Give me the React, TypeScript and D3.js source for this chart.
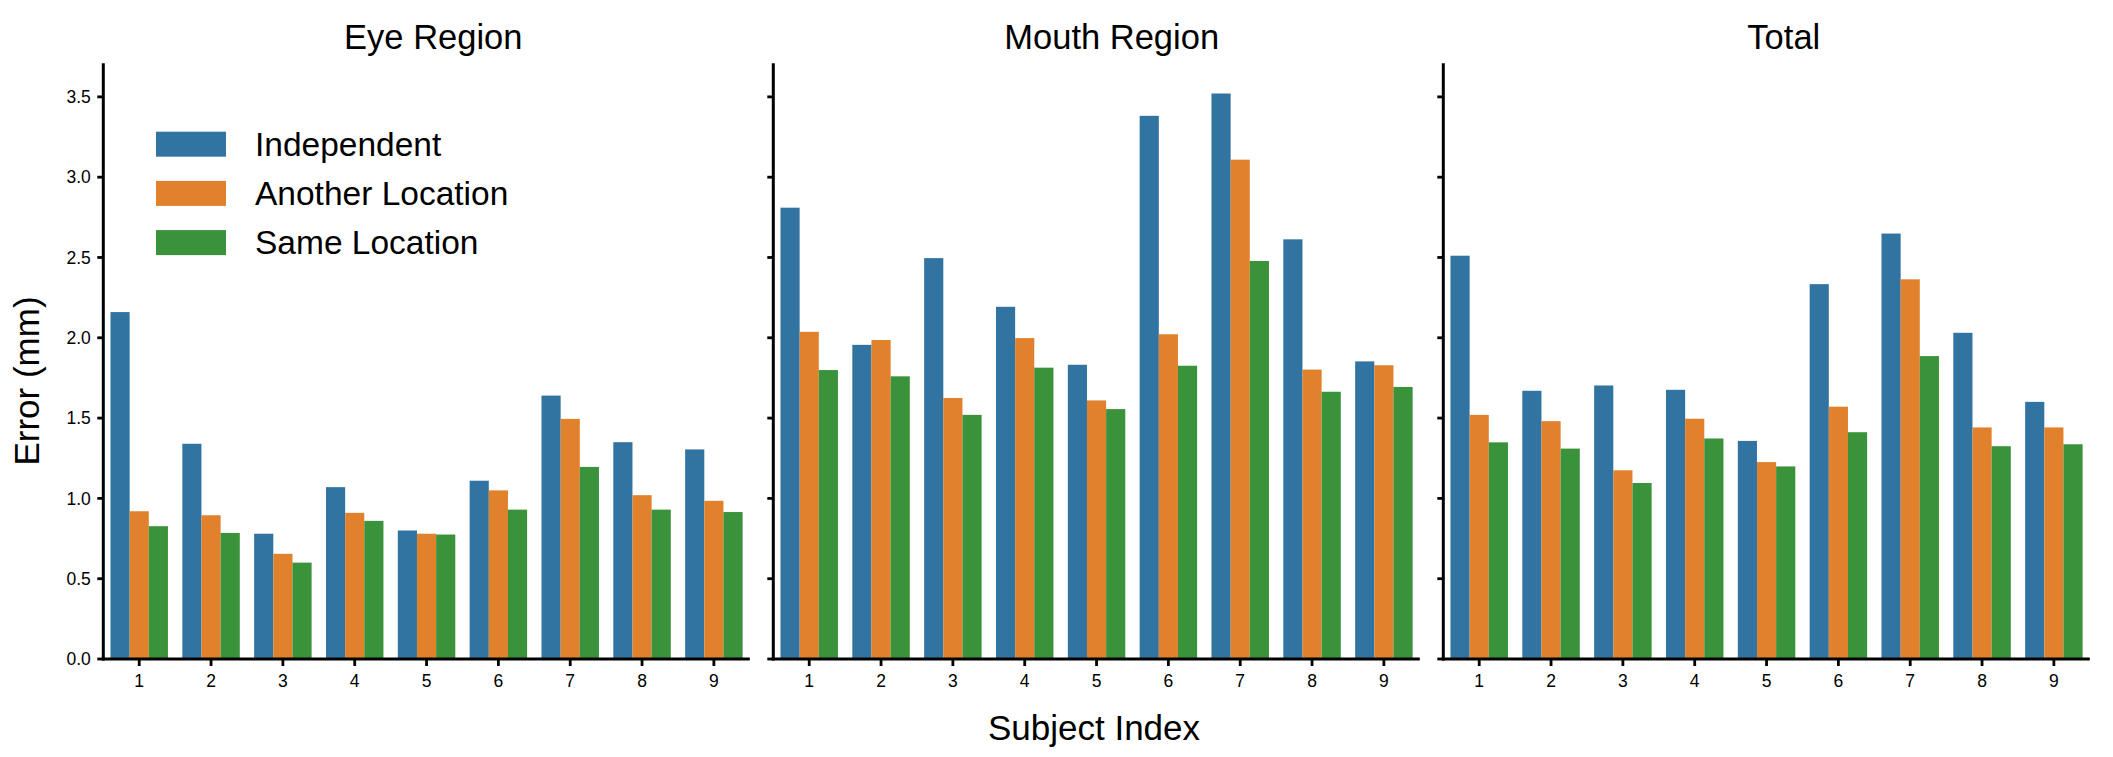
import React, { useEffect } from "react";
import * as d3 from "d3";

// ---------- data ----------
const subjects = ["1", "2", "3", "4", "5", "6", "7", "8", "9"];
const seriesNames = ["Independent", "Another Location", "Same Location"];
const seriesColors = ["#3274a1", "#e1812c", "#3a923a"];
const panelTitles = ["Eye Region", "Mouth Region", "Total"];
const yTickValues = [0, 0.5, 1.0, 1.5, 2.0, 2.5, 3.0, 3.5];

const eyeIndependent = [2.16, 1.34, 0.78, 1.07, 0.8, 1.11, 1.64, 1.35, 1.305];
const eyeAnother = [0.92, 0.895, 0.655, 0.91, 0.78, 1.05, 1.495, 1.02, 0.985];
const eyeSame = [0.827, 0.785, 0.6, 0.86, 0.775, 0.93, 1.196, 0.93, 0.915];

const mouthIndependent = [2.81, 1.956, 2.496, 2.193, 1.832, 3.382, 3.521, 2.613, 1.853];
const mouthAnother = [2.037, 1.986, 1.625, 1.998, 1.61, 2.022, 3.109, 1.802, 1.829];
const mouthSame = [1.799, 1.76, 1.52, 1.814, 1.556, 1.826, 2.478, 1.664, 1.694];

const totalIndependent = [2.511, 1.67, 1.703, 1.676, 1.358, 2.334, 2.649, 2.031, 1.601];
const totalAnother = [1.52, 1.481, 1.175, 1.496, 1.226, 1.571, 2.364, 1.442, 1.442];
const totalSame = [1.349, 1.31, 1.096, 1.373, 1.199, 1.412, 1.886, 1.325, 1.337];

const panelData = [
  [eyeIndependent, eyeAnother, eyeSame],
  [mouthIndependent, mouthAnother, mouthSame],
  [totalIndependent, totalAnother, totalSame],
];

// ---------- layout ----------
const W = 2113;
const H = 757;
const FONT = "'Liberation Sans', Arial, Helvetica, sans-serif";
const panelLeft = [103.3, 773.3, 1443.3];
const panelWidth = 646.5;
const titleOffset = [330, 338.4, 340.5];
const plotTop = 63.3;
const plotBottom = 659;
const yMax = 3.709;

export default function App() {
  useEffect(() => {
    document.body.style.margin = "0";
  }, []);

  const y = d3.scaleLinear().domain([0, yMax]).range([plotBottom, plotTop]);
  const fmt = d3.format(".1f");

  return (
    <svg
      width={W}
      height={H}
      viewBox={`0 0 ${W} ${H}`}
      style={{ display: "block", background: "#fff", fontFamily: FONT }}
    >
      <rect x={0} y={0} width={W} height={H} fill="#fff" />
      {panelData.map((series, pi) => {
        const x0 = panelLeft[pi];
        const x = d3
          .scaleBand<string>()
          .domain(subjects)
          .range([x0, x0 + panelWidth])
          .paddingInner(0)
          .paddingOuter(0);
        const inner = d3
          .scaleBand<string>()
          .domain(seriesNames)
          .range([0, x.bandwidth() * 0.8]);
        return (
          <g key={pi}>
            {/* bars */}
            {series.map((vals, si) =>
              vals.map((v, ci) => {
                const bx = (x(subjects[ci]) as number) + x.bandwidth() * 0.1 + (inner(seriesNames[si]) as number);
                return (
                  <rect
                    key={`${si}-${ci}`}
                    x={bx}
                    y={y(v)}
                    width={inner.bandwidth()}
                    height={y(0) - y(v)}
                    fill={seriesColors[si]}
                  />
                );
              })
            )}
            {/* y ticks */}
            {yTickValues.map((t) => (
              <g key={t}>
                <line
                  x1={x0 - 6}
                  x2={x0}
                  y1={y(t)}
                  y2={y(t)}
                  stroke="#000"
                  strokeWidth={2.8}
                />
                {pi === 0 && (
                  <text
                    x={x0 - 12.5}
                    y={y(t)}
                    dy="0.35em"
                    textAnchor="end"
                    fontSize={17.5}
                    fill="#000"
                  >
                    {fmt(t)}
                  </text>
                )}
              </g>
            ))}
            {/* x ticks */}
            {subjects.map((s) => {
              const cx = (x(s) as number) + x.bandwidth() / 2;
              return (
                <g key={s}>
                  <line
                    x1={cx}
                    x2={cx}
                    y1={plotBottom}
                    y2={plotBottom + 7}
                    stroke="#000"
                    strokeWidth={2.8}
                  />
                  <text
                    x={cx}
                    y={686.7}
                    textAnchor="middle"
                    fontSize={17.5}
                    fill="#000"
                  >
                    {s}
                  </text>
                </g>
              );
            })}
            {/* spines */}
            <line
              x1={x0}
              x2={x0}
              y1={plotTop}
              y2={plotBottom + 1.4}
              stroke="#000"
              strokeWidth={3}
            />
            <line
              x1={x0 - 1.5}
              x2={x0 + panelWidth}
              y1={plotBottom}
              y2={plotBottom}
              stroke="#000"
              strokeWidth={3}
            />
            {/* title */}
            <text
              x={x0 + titleOffset[pi]}
              y={49}
              textAnchor="middle"
              fontSize={34.5}
              fill="#000"
            >
              {panelTitles[pi]}
            </text>
          </g>
        );
      })}

      {/* legend */}
      {seriesNames.map((name, i) => (
        <g key={name} transform={`translate(156, ${131.7 + i * 49.2})`}>
          <rect x={0} y={0} width={70} height={25} fill={seriesColors[i]} />
          <text x={99} y={24} fontSize={33.5} fill="#000">
            {name}
          </text>
        </g>
      ))}

      {/* axis labels */}
      <text
        transform={`translate(39, 381) rotate(-90)`}
        textAnchor="middle"
        fontSize={35}
        fill="#000"
      >
        Error (mm)
      </text>
      <text x={1094} y={740} textAnchor="middle" fontSize={35} fill="#000">
        Subject Index
      </text>
    </svg>
  );
}
